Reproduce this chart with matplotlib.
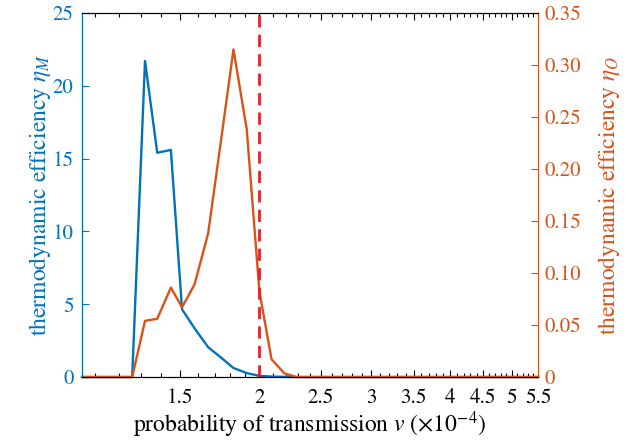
import matplotlib
matplotlib.use("Agg")
import matplotlib.pyplot as plt
from matplotlib.ticker import FixedLocator, NullFormatter

plt.rcParams['font.family'] = 'STIXGeneral'
plt.rcParams['mathtext.fontset'] = 'stix'

# probability of transmission v (x1e-4)
v = [1.05, 1.10, 1.15, 1.20, 1.26, 1.32, 1.38, 1.45, 1.51, 1.58, 1.66, 1.74,
     1.82, 1.91, 2.00, 2.09, 2.19, 2.29, 2.40, 2.51, 2.63, 2.75, 2.88, 3.02,
     3.16, 3.31, 3.47, 3.63, 3.80, 3.98, 4.17, 4.37, 4.57, 4.79, 5.01, 5.25, 5.50]
# thermodynamic efficiency eta_M (left axis)
eta_M = [0, 0, 0, 0, 0, 21.7, 15.4, 15.6, 4.65, 3.35, 2.05, 1.33,
         0.62, 0.27, 0.08, 0.03, 0.01, 0, 0, 0, 0, 0, 0, 0,
         0, 0, 0, 0, 0, 0, 0, 0, 0, 0, 0, 0, 0]
# thermodynamic efficiency eta_O (right axis)
eta_O = [0, 0, 0, 0, 0, 0.054, 0.056, 0.086, 0.067, 0.089, 0.138, 0.228,
         0.315, 0.238, 0.082, 0.017, 0.0035, 0, 0, 0, 0, 0, 0, 0,
         0, 0, 0, 0, 0, 0, 0, 0, 0, 0, 0, 0, 0]
v_crit = 2.0

major_x = [1.5, 2, 2.5, 3, 3.5, 4, 4.5, 5, 5.5]
major_lbl = ['1.5', '2', '2.5', '3', '3.5', '4', '4.5', '5', '5.5']
minor_x = [round(1.1 + 0.1 * i, 1) for i in range(45)]

blue = '#0072BD'
orange = '#D95319'
tick_fs = 15
label_fs = 17

fig = plt.figure(figsize=(6.37, 4.41), dpi=100)
ax = fig.add_axes([0.1287, 0.1451, 0.8446 - 0.1287, 0.9705 - 0.1451])
ax2 = ax.twinx()

ax.plot(v, eta_M, color=blue, lw=1.7, clip_on=False)
ax2.plot(v, eta_O, color=orange, lw=1.7, clip_on=False)
ax2.axvline(v_crit, color='#E8202A', lw=2, ls=(0, (4.4, 2.6)))

ax.set_xscale('log')
ax.set_xlim(1.05, 5.5)
ax.xaxis.set_major_locator(FixedLocator(major_x))
ax.set_xticklabels(major_lbl)
ax.xaxis.set_minor_locator(FixedLocator(minor_x))
ax.xaxis.set_minor_formatter(NullFormatter())

ax.set_ylim(0, 25)
ax.set_yticks([0, 5, 10, 15, 20, 25])
ax2.set_ylim(0, 0.35)
ax2.set_yticks([0, 0.05, 0.10, 0.15, 0.20, 0.25, 0.30, 0.35])
ax2.set_yticklabels(['0', '0.05', '0.10', '0.15', '0.20', '0.25', '0.30', '0.35'])

ax.tick_params(axis='x', which='both', direction='in', top=True,
               labelsize=tick_fs, pad=8, width=0.8)
ax.tick_params(axis='x', which='major', length=5)
ax.tick_params(axis='x', which='minor', length=3)
ax.tick_params(axis='y', direction='in', length=5, color=blue, labelcolor=blue,
               labelsize=tick_fs, width=0.8, pad=6)
ax2.tick_params(axis='y', direction='in', length=5, color=orange,
                labelcolor=orange, labelsize=tick_fs, width=0.8, pad=5)

for sp in ['top', 'bottom']:
    ax2.spines[sp].set_linewidth(0.8)
ax2.spines['left'].set_color(blue)
ax2.spines['right'].set_color(orange)
ax.spines['right'].set_visible(False)

ax.set_xlabel(r'probability of transmission $v$ ($\times10^{-4}$)',
              fontsize=label_fs, labelpad=1)
ax.set_ylabel(r'thermodynamic efficiency $\eta_M$', fontsize=label_fs,
              color=blue, labelpad=0)
ax2.set_ylabel(r'thermodynamic efficiency $\eta_O$', fontsize=label_fs,
               color=orange, labelpad=10)

fig.savefig('out.png', dpi=100)
